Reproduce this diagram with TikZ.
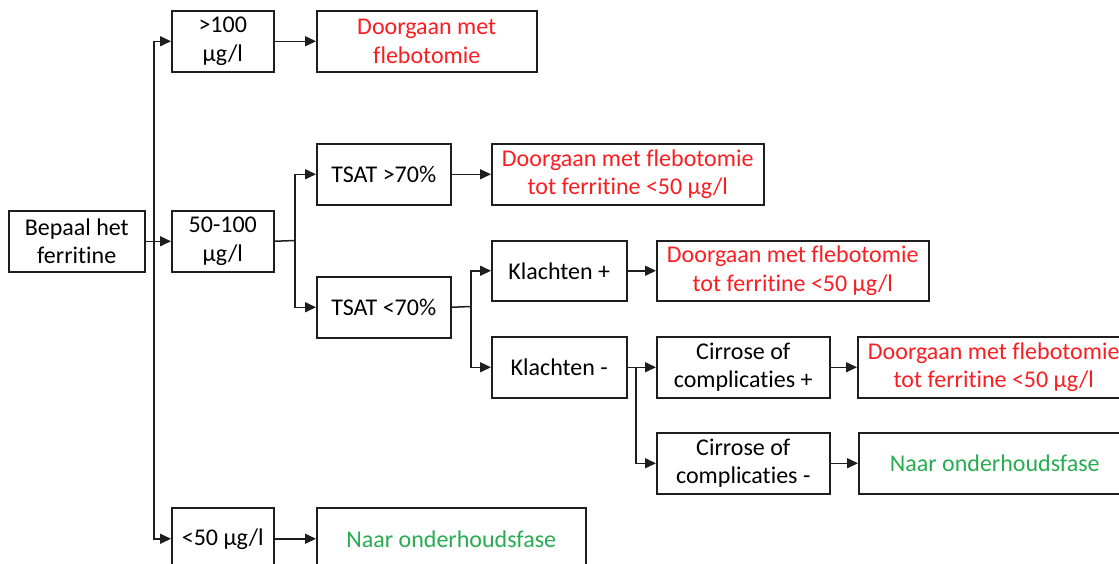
\documentclass[tikz,border=0pt]{standalone}
\usepackage{fontspec}
\setmainfont[Ligatures=NoCommon]{Carlito}
\usetikzlibrary{arrows.meta}
\definecolor{redtxt}{RGB}{250,30,35}
\definecolor{greentxt}{RGB}{40,172,80}
\definecolor{linec}{RGB}{30,30,30}
\tikzset{
  box/.style={draw=linec, line width=1.5pt, rectangle, anchor=north west, inner sep=2pt,
    align=center, font=\fontsize{24}{28.5}\selectfont},
  red/.style={text=redtxt},
  grn/.style={text=greentxt},
  conn/.style={draw=linec, line width=1.5pt},
  arr/.style={conn, -{Triangle[length=11pt,width=10pt]}},
}
\begin{document}
\begin{tikzpicture}[x=1pt,y=-1pt]
\clip (0,0) rectangle (1119,563);
\fill[white] (0,0) rectangle (1119,563);
% nodes
\node[box, minimum width=136pt, minimum height=61pt] (b) at (8,210) {Bepaal het\\ferritine};
\node[box, minimum width=102pt, minimum height=61pt] (g100) at (171,10) {>100\\µg/l};
\node[box, red, minimum width=220pt, minimum height=61pt] (d1) at (316,10) {Doorgaan met\\flebotomie};
\node[box, minimum width=102pt, minimum height=61pt] (m) at (171,210) {50-100\\µg/l};
\node[box, minimum width=134pt, minimum height=61pt] (t70) at (316,143) {TSAT >70\%};
\node[box, red, minimum width=272pt, minimum height=61pt] (d2) at (491,143) {Doorgaan met flebotomie\\tot ferritine <50 µg/l};
\node[box, minimum width=134pt, minimum height=61pt] (tl70) at (316,276) {TSAT <70\%};
\node[box, minimum width=135pt, minimum height=60pt] (kp) at (491,240) {Klachten +};
\node[box, red, minimum width=272pt, minimum height=60pt] (d3) at (656,240) {Doorgaan met flebotomie\\tot ferritine <50 µg/l};
\node[box, minimum width=135pt, minimum height=61pt] (km) at (491,336) {Klachten -};
\node[box, minimum width=173pt, minimum height=61pt] (cp) at (656,336) {Cirrose of\\complicaties +};
\node[box, red, minimum width=272pt, minimum height=61pt] (d4) at (857,336) {Doorgaan met flebotomie\\tot ferritine <50 µg/l};
\node[box, minimum width=173pt, minimum height=61pt] (cm) at (656,432) {Cirrose of\\complicaties -};
\node[box, grn, minimum width=272pt, minimum height=61pt] (n1) at (858,432) {Naar onderhoudsfase};
\node[box, minimum width=102pt, minimum height=62pt] (l50) at (171,507) {<50 µg/l};
\node[box, grn, minimum width=269pt, minimum height=62pt] (n2) at (316,507) {Naar onderhoudsfase};
% junctions
\coordinate (j1) at (154,240.5);
\coordinate (j2) at (295,240.5);
\coordinate (j3) at (471,306.5);
\coordinate (j4) at (636,366.5);
% connectors
\draw[arr] (b.east) -- (m.west);
\draw[arr] (j1) |- (g100.west);
\draw[arr] (j1) |- (l50.west);
\draw[arr] (g100.east) -- (d1.west);
\draw[conn] (m.east) -- (j2);
\draw[arr] (j2) |- (t70.west);
\draw[arr] (j2) |- (tl70.west);
\draw[arr] (t70.east) -- (d2.west);
\draw[conn] (tl70.east) -- (j3);
\draw[arr] (j3) |- (kp.west);
\draw[arr] (j3) |- (km.west);
\draw[arr] (kp.east) -- (d3.west);
\draw[arr] (km.east) -- (cp.west);
\draw[arr] (j4) |- (cm.west);
\draw[arr] (cp.east) -- (d4.west);
\draw[arr] (cm.east) -- (n1.west);
\draw[arr] (l50.east) -- (n2.west);
\end{tikzpicture}
\end{document}
